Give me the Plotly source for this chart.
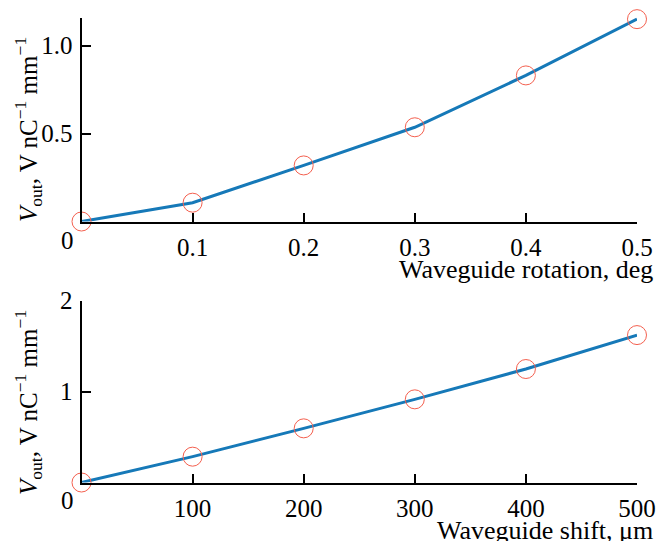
import plotly.graph_objects as go

W, H = 666, 541

# Data
rot_deg = [0.0, 0.1, 0.2, 0.3, 0.4, 0.5]
rot_vout = [0.0, 0.107, 0.319, 0.536, 0.831, 1.151]
shift_um = [0, 100, 200, 300, 400, 500]
shift_vout = [0.0, 0.284, 0.595, 0.914, 1.247, 1.62]

top_xticks = [0.1, 0.2, 0.3, 0.4, 0.5]
top_yticks = [0.5, 1.0]
top_yticktext = ["0.5", "1.0"]
bot_xticks = [100, 200, 300, 400, 500]
bot_yticks = [1, 2]

FONT = "Liberation Serif"
FS = 25
LINE_C = "#1679b8"
MARK_C = "#f4604f"

def px(x):
    return x / W

def py(y):
    return 1 - y / H

fig = go.Figure()

for xs, ys, xa, ya in [(rot_deg, rot_vout, "x", "y"), (shift_um, shift_vout, "x2", "y2")]:
    fig.add_trace(go.Scatter(x=xs, y=ys, xaxis=xa, yaxis=ya, mode="lines",
                             line=dict(color=LINE_C, width=3), cliponaxis=False,
                             showlegend=False, hoverinfo="skip"))
    fig.add_trace(go.Scatter(x=xs, y=ys, xaxis=xa, yaxis=ya, mode="markers",
                             marker=dict(symbol="circle-open", size=19, color=MARK_C,
                                         line=dict(width=1, color=MARK_C)),
                             cliponaxis=False, showlegend=False))

axis_common = dict(showgrid=False, zeroline=False, showline=True, linecolor="black",
                   linewidth=2, ticks="inside", ticklen=9, tickwidth=1.5, tickcolor="black",
                   automargin=False,
                   tickfont=dict(family=FONT, size=FS, color="black"))

xdom = [px(81.5), px(637)]
# top panel: 0 at y=221.5 px, 175.8 px per unit, range up to 1.16
top_unit = 175.8
top_max = 1.16
fig.update_layout(
    width=W, height=H, margin=dict(l=0, r=0, t=0, b=0, pad=0, autoexpand=False),
    paper_bgcolor="white", plot_bgcolor="white", showlegend=False,
    xaxis=dict(domain=xdom, range=[0, 0.5], tickvals=top_xticks, anchor="y",
               ticklabelstandoff=2, **axis_common),
    yaxis=dict(domain=[py(221.5), py(221.5 - top_max * top_unit)], range=[0, top_max],
               tickvals=top_yticks, ticktext=top_yticktext, anchor="x",
               ticklabelstandoff=2, **axis_common),
    xaxis2=dict(domain=xdom, range=[0, 500], tickvals=bot_xticks, anchor="y2",
                ticklabelstandoff=2, **axis_common),
    yaxis2=dict(domain=[py(482.5), py(300.5)], range=[0, 2], tickvals=bot_yticks,
                anchor="x2", ticklabelstandoff=2, **axis_common),
)

tfont = dict(family=FONT, size=FS, color="black")
xtfont = dict(family=FONT, size=26, color="black")
ytitle = "<i>V</i><sub>out</sub>, V nC<sup>\u22121</sup> mm<sup>\u22121</sup>"
ann = [
    dict(text="0", x=px(67), y=py(240), xanchor="center", yanchor="middle", font=tfont),
    dict(text="0", x=px(67), y=py(500), xanchor="center", yanchor="middle", font=tfont),
    dict(text="Waveguide rotation, deg", x=px(655), y=py(269), xanchor="right",
         yanchor="middle", font=xtfont),
    dict(text="Waveguide shift, \u03bcm", x=px(655), y=py(530), xanchor="right",
         yanchor="middle", font=xtfont),
    dict(text=ytitle, x=px(28), y=py(130), xanchor="center", yanchor="middle",
         textangle=-90, font=tfont),
    dict(text=ytitle, x=px(28), y=py(403), xanchor="center", yanchor="middle",
         textangle=-90, font=tfont),
]
for a in ann:
    fig.add_annotation(xref="paper", yref="paper", showarrow=False, **a)

fig.write_html("out.html", config={"displayModeBar": False},
               post_script="document.body.style.margin='0';")
